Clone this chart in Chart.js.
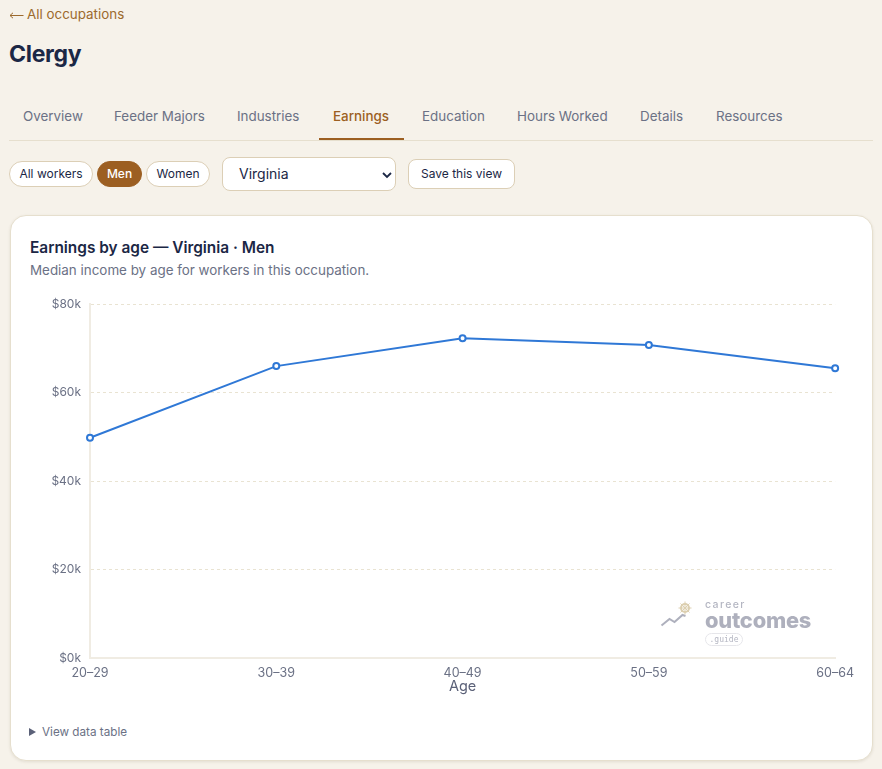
<!DOCTYPE html>
<html>
<head>
<meta charset="utf-8">
<title>Clergy</title>
<script src="https://cdn.jsdelivr.net/npm/chart.js@4"></script>
<style>
    html, body { margin: 0; padding: 0; }
    body { width: 882px; height: 769px; background: #f6f2ea; font-family: Inter, sans-serif; color: #1b2745; position: relative; overflow: hidden; }
    .abs { position: absolute; white-space: nowrap; line-height: 1; }
    .back { left: 27px; top: 8px; font-size: 13.4px; color: #9c6a2e; }
    .back-arrow { position: absolute; left: 9px; top: 12px; }
    h1 { position: absolute; left: 9px; top: 42px; margin: 0; font-size: 23px; line-height: 1.1; font-weight: 700; letter-spacing: -0.3px; color: #1b2745; }
    .tab { top: 110px; font-size: 13.4px; color: #6b7185; }
    .tab.on { color: #9c5f22; font-weight: 500; }
    .tabline { position: absolute; left: 9px; top: 140px; width: 864px; height: 1px; background: #e6dfce; }
    .tabmark { position: absolute; left: 319px; top: 138px; width: 85px; height: 2px; background: #9c5f22; }
    .pill { position: absolute; top: 161px; height: 26px; box-sizing: border-box; border: 1px solid #dccfb6; border-radius: 13px; background: #fff; font-size: 12px; line-height: 24px; text-align: center; color: #1b2745; }
    .pill.on { background: #9c5f22; border-color: #9c5f22; color: #fff; font-weight: 500; }
    .select { position: absolute; left: 222px; top: 157px; width: 174px; height: 34px; box-sizing: border-box; border: 1px solid #dccfb6; border-radius: 8px; background: #fff; font-size: 14px; line-height: 32px; padding-left: 16px; color: #1b2745; }
    .select svg { position: absolute; right: 2px; top: 13px; }
    .save { position: absolute; left: 408px; top: 159px; width: 107px; height: 30px; box-sizing: border-box; border: 1px solid #dccfb6; border-radius: 8px; background: #fff; font-size: 12px; line-height: 28px; text-align: center; color: #1b2745; }
    .card { position: absolute; left: 10px; top: 215px; width: 863px; height: 546px; box-sizing: border-box; background: #fff; border: 1px solid #e6dfce; border-radius: 16px; box-shadow: 0 1px 3px rgba(90, 75, 45, 0.12); }
    .title { left: 30px; top: 240px; font-size: 15.4px; font-weight: 600; color: #1b2745; }
    .sub { left: 30px; top: 264px; font-size: 13.4px; color: #6b7185; }
    .chart-box { position: absolute; left: 30px; top: 288px; width: 824px; height: 407px; }
    .mark-career { left: 705px; top: 600px; font-size: 10.5px; font-weight: 500; letter-spacing: 1.4px; color: #b4b6c2; }
    .mark-out { left: 705px; top: 610px; font-size: 21.8px; font-weight: 800; letter-spacing: -0.2px; color: #aeb0bd; }
    .mark-guide { position: absolute; left: 705px; top: 633px; width: 38px; height: 13px; box-sizing: border-box; border: 1px solid #e6e6ea; border-radius: 7px; font-family: "DejaVu Sans Mono", monospace; font-size: 8px; line-height: 11px; text-align: center; color: #b4b6c2; }
    .logo { position: absolute; left: 660px; top: 600px; }
    .view { left: 42px; top: 727px; font-size: 11.7px; color: #6b7185; }
    .tri { position: absolute; left: 29px; top: 728px; width: 0; height: 0; border-left: 7px solid #5b6178; border-top: 4px solid transparent; border-bottom: 4px solid transparent; }
</style>
</head>
<body>
    <svg class="back-arrow" width="15" height="7" viewBox="0 0 15 7"><path d="M14.5 3.5H1M4 .8L1 3.5l3 2.7" fill="none" stroke="#9c6a2e" stroke-width="1"/></svg>
    <div class="abs back">All occupations</div>
    <h1>Clergy</h1>

    <div class="abs tab" style="left:23px">Overview</div>
    <div class="abs tab" style="left:114px">Feeder Majors</div>
    <div class="abs tab" style="left:237px">Industries</div>
    <div class="abs tab on" style="left:333px">Earnings</div>
    <div class="abs tab" style="left:422px">Education</div>
    <div class="abs tab" style="left:517px">Hours Worked</div>
    <div class="abs tab" style="left:640px">Details</div>
    <div class="abs tab" style="left:716px">Resources</div>
    <div class="tabline"></div>
    <div class="tabmark"></div>

    <div class="pill" style="left:9px;width:84px">All workers</div>
    <div class="pill on" style="left:97px;width:45px">Men</div>
    <div class="pill" style="left:146px;width:64px">Women</div>
    <div class="select">Virginia
        <svg width="12" height="8" viewBox="0 0 12 8"><path d="M2 2l4 4 4-4" fill="none" stroke="#1b2745" stroke-width="1.8"/></svg>
    </div>
    <div class="save">Save this view</div>

    <div class="card"></div>
    <div class="abs title">Earnings by age — Virginia · Men</div>
    <div class="abs sub">Median income by age for workers in this occupation.</div>

    <div class="chart-box"><canvas id="graficoEarnings"></canvas></div>

    <svg class="logo" width="36" height="30" viewBox="0 0 36 30">
        <path d="M1.5 25.5l8-6.5 5 3 8-7 3 1" fill="none" stroke="#aeb0bd" stroke-width="2"/>
        <circle cx="25" cy="8" r="4" fill="none" stroke="#dccfb0" stroke-width="2"/>
        <path d="M25 1.5v13M18.5 8h13M20.5 3.5l9 9M29.5 3.5l-9 9" stroke="#dccfb0" stroke-width="1"/>
    </svg>
    <div class="abs mark-career">career</div>
    <div class="abs mark-out">outcomes</div>
    <div class="mark-guide">.guide</div>

    <div class="tri"></div>
    <div class="abs view">View data table</div>

<script>
// Datos
const ageLabels = ['20–29', '30–39', '40–49', '50–59', '60–64'];
const medianIncome = [49800, 66000, 72300, 70800, 65500];
const yTicks = [0, 20000, 40000, 60000, 80000];

const tickColor = '#6b7185';
const gridColor = '#e9e3d2';
const axisColor = '#f0ece3';

new Chart(document.getElementById('graficoEarnings'), {
    type: 'line',
    data: {
        labels: ageLabels,
        datasets: [{
            label: 'Median income',
            data: medianIncome,
            borderColor: '#2f78d6',
            borderWidth: 2,
            backgroundColor: '#ffffff',
            pointBackgroundColor: '#ffffff',
            pointBorderColor: '#2f78d6',
            pointBorderWidth: 2,
            pointRadius: 3,
            tension: 0,
            clip: false
        }]
    },
    options: {
        responsive: true,
        maintainAspectRatio: false,
        animation: false,
        plugins: {
            legend: { display: false },
            tooltip: { enabled: false }
        },
        scales: {
            x: {
                grid: { display: false },
                border: { color: axisColor, width: 2 },
                afterFit: scale => { scale.height = 37; },
                ticks: {
                    color: tickColor,
                    font: { family: 'Inter', size: 12.5 },
                    maxRotation: 0,
                    padding: 0
                },
                title: {
                    display: true,
                    text: 'Age',
                    color: '#5b6178',
                    font: { family: 'Inter', size: 14.5 },
                    padding: { top: 1, bottom: 0 }
                }
            },
            y: {
                min: 0,
                max: 80000,
                afterFit: scale => { scale.width = 60; },
                afterBuildTicks: scale => { scale.ticks = yTicks.map(v => ({ value: v })); },
                grid: {
                    color: gridColor,
                    lineWidth: 1,
                    drawTicks: false
                },
                border: { color: axisColor, width: 2, dash: [3, 3] },
                ticks: {
                    color: tickColor,
                    font: { family: 'Inter', size: 12 },
                    padding: 9,
                    callback: value => '$' + (value / 1000) + 'k'
                }
            }
        }
    }
});
</script>
</body>
</html>
